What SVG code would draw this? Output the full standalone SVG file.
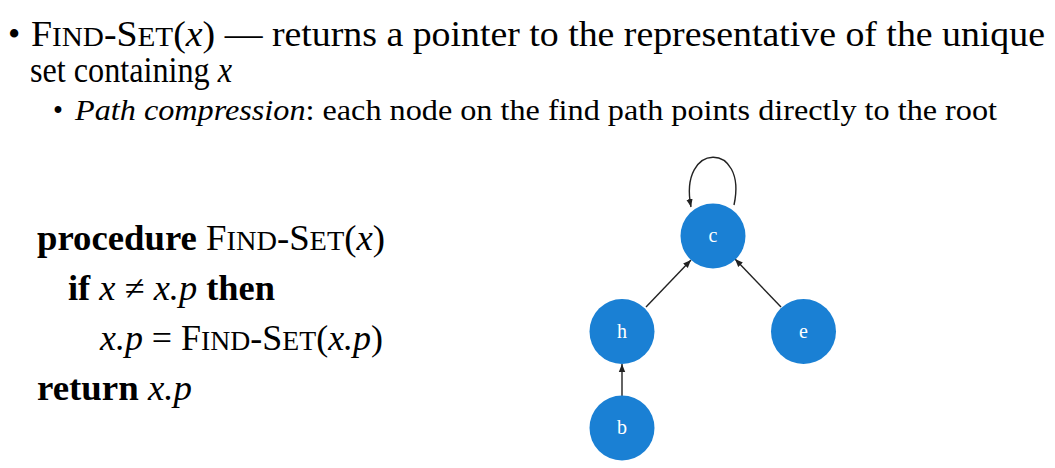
<svg xmlns="http://www.w3.org/2000/svg" width="1055" height="468" viewBox="0 0 1055 468">
  <style>
    text { font-family: "Liberation Serif", "Times New Roman", serif; fill: #000; }
    .lg { font-size: 35px; }
    .md { font-size: 28.5px; }
    .sc { font-size: 27px; }
    .it { font-style: italic; }
    .b { font-weight: bold; }
    .node circle { fill: #1A80D4; }
    .node text { fill: #fff; font-size: 20px; text-anchor: middle; }
    .edge { fill: none; stroke: #222; stroke-width: 1.4; }
  </style>
  <defs>
    <marker id="arrow" markerUnits="userSpaceOnUse" markerWidth="9" markerHeight="8" refX="8" refY="4" orient="auto">
      <path d="M0,0.8 L8,4 L0,7.2 z" fill="#222"/>
    </marker>
  </defs>

  <!-- bullet text -->
  <g id="bullets">
    <text class="lg" x="8" y="46">•</text>
    <text class="lg" x="31" y="46" textLength="1014" lengthAdjust="spacingAndGlyphs">F<tspan class="sc">IND</tspan>-S<tspan class="sc">ET</tspan>(<tspan class="it">x</tspan>) — returns a pointer to the representative of the unique</text>
    <text class="lg" x="30" y="82" textLength="202" lengthAdjust="spacingAndGlyphs">set containing <tspan class="it">x</tspan></text>
    <text class="md" x="53" y="120">•</text>
    <text class="md" x="75" y="120" textLength="922" lengthAdjust="spacingAndGlyphs"><tspan class="it">Path compression</tspan>: each node on the find path points directly to the root</text>
  </g>

  <!-- pseudocode -->
  <g id="code">
    <text class="lg" x="37" y="250" textLength="348" lengthAdjust="spacingAndGlyphs"><tspan class="b">procedure</tspan> F<tspan class="sc">IND</tspan>-S<tspan class="sc">ET</tspan>(<tspan class="it">x</tspan>)</text>
    <text class="lg" x="68" y="300" textLength="207" lengthAdjust="spacingAndGlyphs"><tspan class="b">if</tspan> <tspan class="it">x</tspan> ≠ <tspan class="it">x.p</tspan> <tspan class="b">then</tspan></text>
    <text class="lg" x="100" y="350" textLength="283" lengthAdjust="spacingAndGlyphs"><tspan class="it">x.p</tspan> = F<tspan class="sc">IND</tspan>-S<tspan class="sc">ET</tspan>(<tspan class="it">x.p</tspan>)</text>
    <text class="lg" x="37" y="400" textLength="155" lengthAdjust="spacingAndGlyphs"><tspan class="b">return</tspan> <tspan class="it">x.p</tspan></text>
  </g>

  <!-- parent pointers -->
  <g id="connectors">
    <path class="edge" d="M734,205 C748,141 678,141 691,207" marker-end="url(#arrow)"/>
    <line class="edge" x1="646" y1="307" x2="691" y2="260" marker-end="url(#arrow)"/>
    <line class="edge" x1="781" y1="307" x2="735" y2="259" marker-end="url(#arrow)"/>
    <line class="edge" x1="622" y1="396" x2="622" y2="364" marker-end="url(#arrow)"/>
  </g>

  <g id="node-c" class="node"><circle cx="713" cy="236" r="32.5"/><text x="713" y="242">c</text></g>
  <g id="node-h" class="node"><circle cx="622" cy="331.5" r="32.5"/><text x="622" y="338">h</text></g>
  <g id="node-e" class="node"><circle cx="803.5" cy="331.5" r="32.5"/><text x="803.5" y="338">e</text></g>
  <g id="node-b" class="node"><circle cx="622" cy="428" r="32.5"/><text x="622" y="434">b</text></g>
</svg>
